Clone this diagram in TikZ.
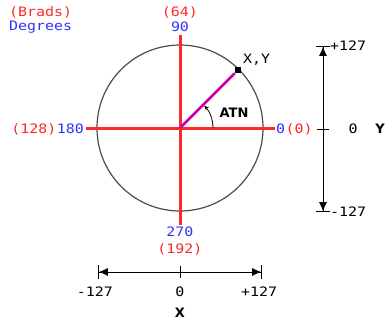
\documentclass[tikz,border=0pt]{standalone}
\usepackage{fontspec}
\newfontfamily\pixfont[FakeStretch=1.15]{DejaVu Sans Mono}
\newfontfamily\boldfont{DejaVu Sans}
\usetikzlibrary{arrows.meta}
\definecolor{bradred}{RGB}{255,40,40}
\definecolor{degblue}{RGB}{50,50,255}
\definecolor{atnmag}{RGB}{200,0,170}

\begin{document}
\begin{tikzpicture}[x=1pt,y=1pt,
  lbl/.style={font=\pixfont\fontsize{13}{13}\selectfont, inner sep=0pt},
  brad/.style={lbl, text=bradred},
  deg/.style={lbl, text=degblue},
  bold/.style={font=\boldfont\bfseries\fontsize{13}{13}\selectfont, inner sep=0pt},
  axis/.style={bradred, line width=3pt},
  dimline/.style={line width=0.8pt, {Bar[width=14pt]Latex[length=9pt,width=8pt]}-{Latex[length=9pt,width=8pt]Bar[width=14pt]}}]
  \useasboundingbox (-180,-194) rectangle (208,128);
  % draw circle and red axes
  \coordinate (ctr) at (0,0);
  \draw[black!70, line width=1.2pt] (ctr) circle (83);
  \coordinate (ax_top) at (0,93);
  \coordinate (ax_bot) at (0,-97);
  \coordinate (ax_left) at (-94,0);
  \coordinate (ax_right) at (95,0);
  \draw[axis] (ax_left) -- (ax_right);
  \draw[axis] (ax_top) -- (ax_bot);
  % draw angle labels
  \node[brad, anchor=west] (legend_brad) at (-171,116) {(Brads)};
  \node[deg, anchor=west] (legend_deg) at (-171,101) {Degrees};
  \node[brad] (brad_top) at (0,116) {(64)};
  \node[deg] (deg_top) at (0,101) {90};
  \node[deg, anchor=west] (deg_right) at (96,-1) {0};
  \node[brad, anchor=west] (brad_right) at (deg_right.east) {(0)};
  \node[deg, anchor=east] (deg_left) at (-96,-1) {180};
  \node[brad, anchor=east] (brad_left) at (deg_left.west) {(128)};
  \node[deg] (deg_bot) at (0,-104) {270};
  \node[brad] (brad_bot) at (0,-121) {(192)};
  % draw point x,y and angle
  \node[fill=black, minimum size=6pt, inner sep=0pt] (pt_xy) at (45:82) {};
  \draw[atnmag, line width=2.5pt] (ctr) -- (pt_xy);
  \node[lbl, anchor=south west] (lbl_xy) at (63,62) {X,Y};
  \draw[line width=0.8pt, -{Stealth[length=5pt,width=4pt]}] (33,0) arc (0:43:33);
  \node[bold] (lbl_atn) at (54,15) {ATN};
  % draw y dimension
  \coordinate (ydim_top) at (143,82);
  \coordinate (ydim_bot) at (143,-84);
  \coordinate (ydim_mid) at (143,-1);
  \draw[dimline] (ydim_top) -- (ydim_bot);
  \draw[line width=0.8pt] (ydim_mid) ++(-6,0) -- ++(12,0);
  \node[lbl, anchor=west] (ydim_plus) at (150,82) {+127};
  \node[lbl, anchor=west] (ydim_minus) at (150,-84) {-127};
  \node[lbl] (ydim_zero) at (173,-1) {0};
  \node[bold] (lbl_y) at (200,-1) {Y};
  % draw x dimension
  \coordinate (xdim_left) at (-82,-144);
  \coordinate (xdim_right) at (82,-144);
  \coordinate (xdim_mid) at (0,-144);
  \draw[dimline] (xdim_left) -- (xdim_right);
  \draw[line width=0.8pt] (xdim_mid) ++(0,-6) -- ++(0,12);
  \node[lbl] (xdim_minus) at (-85,-164) {-127};
  \node[lbl] (xdim_zero) at (0,-164) {0};
  \node[lbl] (xdim_plus) at (79,-164) {+127};
  \node[bold] (lbl_x) at (0,-185) {X};
\end{tikzpicture}
\end{document}
